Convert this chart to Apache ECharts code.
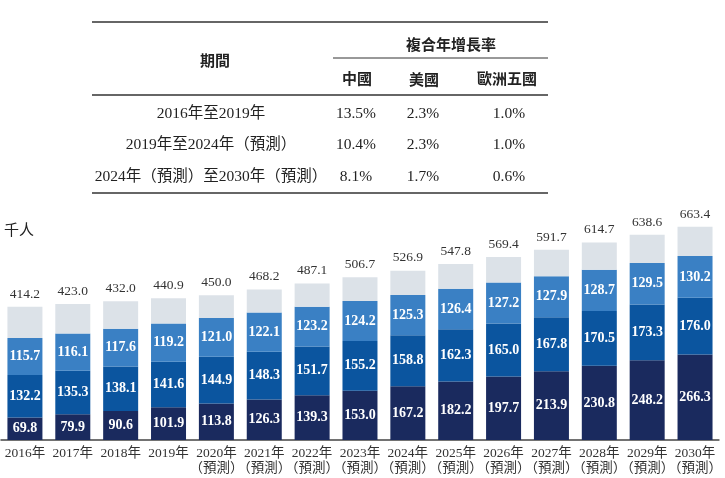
<!DOCTYPE html>
<html><head><meta charset="utf-8">
<script src="https://cdn.jsdelivr.net/npm/echarts@6/dist/echarts.min.js"></script>
<style>html,body{margin:0;padding:0;background:#fff}#c{width:725px;height:478px}</style>
</head><body><div id="c"></div>
<script>
var years = ['2016年','2017年','2018年','2019年','2020年','2021年','2022年','2023年','2024年','2025年','2026年','2027年','2028年','2029年','2030年'];
var forecastFrom = 4;
var seg1 = [69.8,79.9,90.6,101.9,113.8,126.3,139.3,153.0,167.2,182.2,197.7,213.9,230.8,248.2,266.3];
var seg2 = [132.2,135.3,138.1,141.6,144.9,148.3,151.7,155.2,158.8,162.3,165.0,167.8,170.5,173.3,176.0];
var seg3 = [115.7,116.1,117.6,119.2,121.0,122.1,123.2,124.2,125.3,126.4,127.2,127.9,128.7,129.5,130.2];
var totals = [414.2,423.0,432.0,440.9,450.0,468.2,487.1,506.7,526.9,547.8,569.4,591.7,614.7,638.6,663.4];
var seg4 = totals.map(function(t,i){return +(t-seg1[i]-seg2[i]-seg3[i]).toFixed(1);});

var tableHead = {period:'期間', cagr:'複合年增長率', cols:['中國','美國','歐洲五國']};
var rowLabels = ['2016年至2019年','2019年至2024年（預測）','2024年（預測）至2030年（預測）'];
var rowChina = ['13.5%','10.4%','8.1%'];
var rowUS = ['2.3%','2.3%','1.7%'];
var rowEU = ['1.0%','1.0%','0.6%'];

var FF = '"Liberation Serif","Noto Sans CJK TC",serif';
var CJK = '"Noto Sans CJK TC",sans-serif';
var catLabels = years.map(function(y,i){return i>=forecastFrom ? y+'\n（預測）' : y;});

var inLabel = {show:true, position:'inside', color:'#fff', fontFamily:FF, fontWeight:'bold', fontSize:14,
  formatter:function(p){return Number(p.value).toFixed(1);}};
function mk(data,color,label){
  return {type:'bar', stack:'s', data:data, barWidth:35, itemStyle:{color:color}, label:label, silent:true};
}

var g = [];
function txt(x,y,s,opt){
  opt = opt||{};
  g.push({type:'text', x:x, y:y, style:{text:s, fill:'#222', font:(opt.weight||'normal')+' '+(opt.size||14)+'px '+(opt.family||FF), textAlign:opt.align||'center', textVerticalAlign:'middle'}});
}
function line(x1,y1,x2,y2,w){
  g.push({type:'line', shape:{x1:x1,y1:y1,x2:x2,y2:y2}, style:{stroke:'#333', lineWidth:w||1.5}});
}
line(92,22,548,22,1.5);
line(333,58,548,58,1);
line(92,95,548,95,1.5);
line(92,193,548,193,1.5);
txt(215,60,tableHead.period,{family:CJK,weight:'bold',size:15});
txt(451,44,tableHead.cagr,{family:CJK,weight:'bold',size:15});
txt(357,78,tableHead.cols[0],{family:CJK,weight:'bold',size:15});
txt(424,79,tableHead.cols[1],{family:CJK,weight:'bold',size:15});
txt(507,78,tableHead.cols[2],{family:CJK,weight:'bold',size:15});
var rowY = [114,145,177];
rowLabels.forEach(function(r,i){
  txt(211,rowY[i],r,{size:15.5});
  txt(356,rowY[i],rowChina[i],{size:15.5});
  txt(423,rowY[i],rowUS[i],{size:15.5});
  txt(509,rowY[i],rowEU[i],{size:15.5});
});
txt(4,229,'千人',{family:CJK,size:15,align:'left'});

var chart = echarts.init(document.getElementById('c'));
chart.setOption({
  animation:false,
  grid:{left:1, right:5, top:215, bottom:38},
  xAxis:{type:'category', data:catLabels, axisTick:{show:false},
    axisLine:{lineStyle:{color:'#444', width:1.5}},
    axisLabel:{color:'#333', fontFamily:FF, fontSize:13.5, lineHeight:15, margin:6, interval:0}},
  yAxis:{type:'value', min:0, max:700, show:false, splitLine:{show:false}},
  graphic:g,
  series:[
    mk(seg1,'#1a2a5e',inLabel),
    mk(seg2,'#0b559f',inLabel),
    mk(seg3,'#3a80c4',inLabel),
    mk(seg4,'#dce2e8',{show:true, position:'top', distance:6, color:'#333', fontFamily:FF, fontSize:13.5,
      formatter:function(p){return totals[p.dataIndex].toFixed(1);}})
  ]
});
</script></body></html>
